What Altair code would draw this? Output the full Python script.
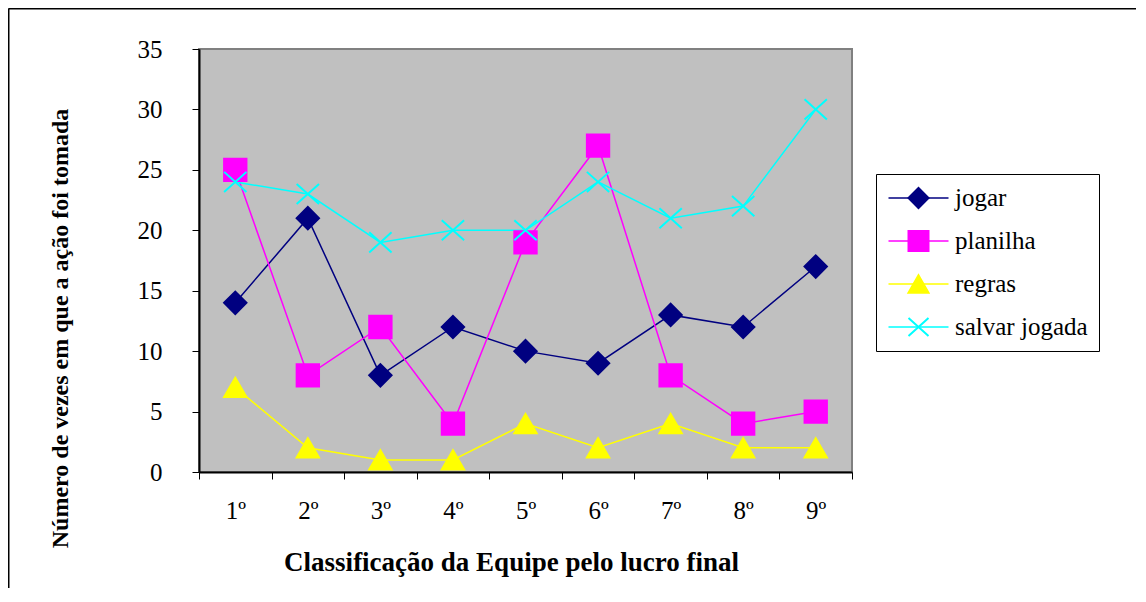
import altair as alt
import pandas as pd

categorias = ["1º", "2º", "3º", "4º", "5º", "6º", "7º", "8º", "9º"]
series = ["jogar", "planilha", "regras", "salvar jogada"]
jogar = [14, 21, 8, 12, 10, 9, 13, 12, 17]
planilha = [25, 8, 12, 4, 19, 27, 8, 4, 5]
regras = [7, 2, 1, 1, 4, 2, 4, 2, 2]
salvar_jogada = [24, 23, 19, 20, 20, 24, 21, 22, 30]
cores = ["#000080", "#FF00FF", "#FFFF00", "#00FFFF"]
formas = ["diamond", "square", "triangle-up", "M-1,-0.9L1,0.9M-1,0.9L1,-0.9"]

series_l = ["L " + s for s in series]

rows = []
for nome, nome_l, vals in zip(series, series_l, [jogar, planilha, regras, salvar_jogada]):
    for c, v in zip(categorias, vals):
        rows.append({"rank": c, "serie": nome, "serie_l": nome_l, "valor": v})
df = pd.DataFrame(rows)

FONT = "Liberation Serif"

x_enc = alt.X(
    "rank:N",
    sort=categorias,
    scale=alt.Scale(type="band", paddingInner=0, paddingOuter=0),
    axis=alt.Axis(
        title="Classificação da Equipe pelo lucro final",
        titleFont=FONT, titleFontSize=27, titleFontWeight="bold", titleColor="black",
        titleX=312, titleY=98, titleBaseline="alphabetic",
        labelFont=FONT, labelFontSize=25, labelColor="black", labelAngle=0,
        labelPadding=19, labelBaseline="top",
        tickBand="extent", tickColor="black", tickSize=7, tickWidth=1,
        domainColor="black", domainWidth=2, grid=False,
    ),
)
y_enc = alt.Y(
    "valor:Q",
    scale=alt.Scale(domain=[0, 35], nice=False, zero=True),
    axis=alt.Axis(
        title="Número de vezes em que a ação foi tomada",
        titleFont=FONT, titleFontSize=24, titleFontWeight="bold", titleColor="black",
        titleX=-132, titleY=279, titleBaseline="alphabetic", titleAngle=270,
        labelFont=FONT, labelFontSize=25, labelColor="black", labelPadding=30,
        values=[0, 5, 10, 15, 20, 25, 30, 35],
        tickColor="black", tickSize=7, tickWidth=1,
        domainColor="black", domainWidth=2, grid=False,
    ),
)

leg_common = dict(
    title=None, orient="none", legendX=677, legendY=125,
    padding=11, rowPadding=17, clipHeight=26, symbolSize=400, symbolOffset=19,
    labelFont=FONT, labelFontSize=25, labelColor="black", labelOffset=24,
)

leg_lines = alt.Legend(
    symbolType="M-3,0H3", symbolStrokeWidth=1.5, labelExpr="''", **leg_common
)
leg_points = alt.Legend(strokeColor="black", symbolStrokeWidth=2, **leg_common)

lines = alt.Chart(df).mark_line(strokeWidth=1.5).encode(
    x=x_enc, y=y_enc,
    color=alt.Color("serie_l:N", scale=alt.Scale(domain=series_l, range=cores), legend=leg_lines),
    detail="serie_l:N",
)

points = alt.Chart(df).mark_point(filled=True, size=500, strokeWidth=2, opacity=1).encode(
    x=x_enc, y=y_enc,
    fill=alt.Fill("serie:N", scale=alt.Scale(domain=series, range=cores), legend=leg_points),
    stroke=alt.Stroke("serie:N", scale=alt.Scale(domain=series, range=cores), legend=leg_points),
    shape=alt.Shape("serie:N", scale=alt.Scale(domain=series, range=formas), legend=leg_points),
)

one = pd.DataFrame({"k": [0]})
frame_top = alt.Chart(one).mark_rule(color="black", strokeWidth=2).encode(
    x=alt.value(-190.5), x2=alt.value(937), y=alt.value(-40.5)
)
frame_left = alt.Chart(one).mark_rule(color="black", strokeWidth=2).encode(
    x=alt.value(-190.5), y=alt.value(-40.5), y2=alt.value(540)
)

chart = alt.layer(frame_top, frame_left, lines, points).properties(
    width=653, height=423,
    background="white",
    autosize=alt.AutoSizeParams(type="none"),
    padding={"left": 191, "top": 41, "right": 286, "bottom": 116},
).configure_view(
    fill="#C0C0C0", stroke="#808080", strokeWidth=2
)

chart.save("out.html", embed_options={"renderer": "svg", "actions": False})
